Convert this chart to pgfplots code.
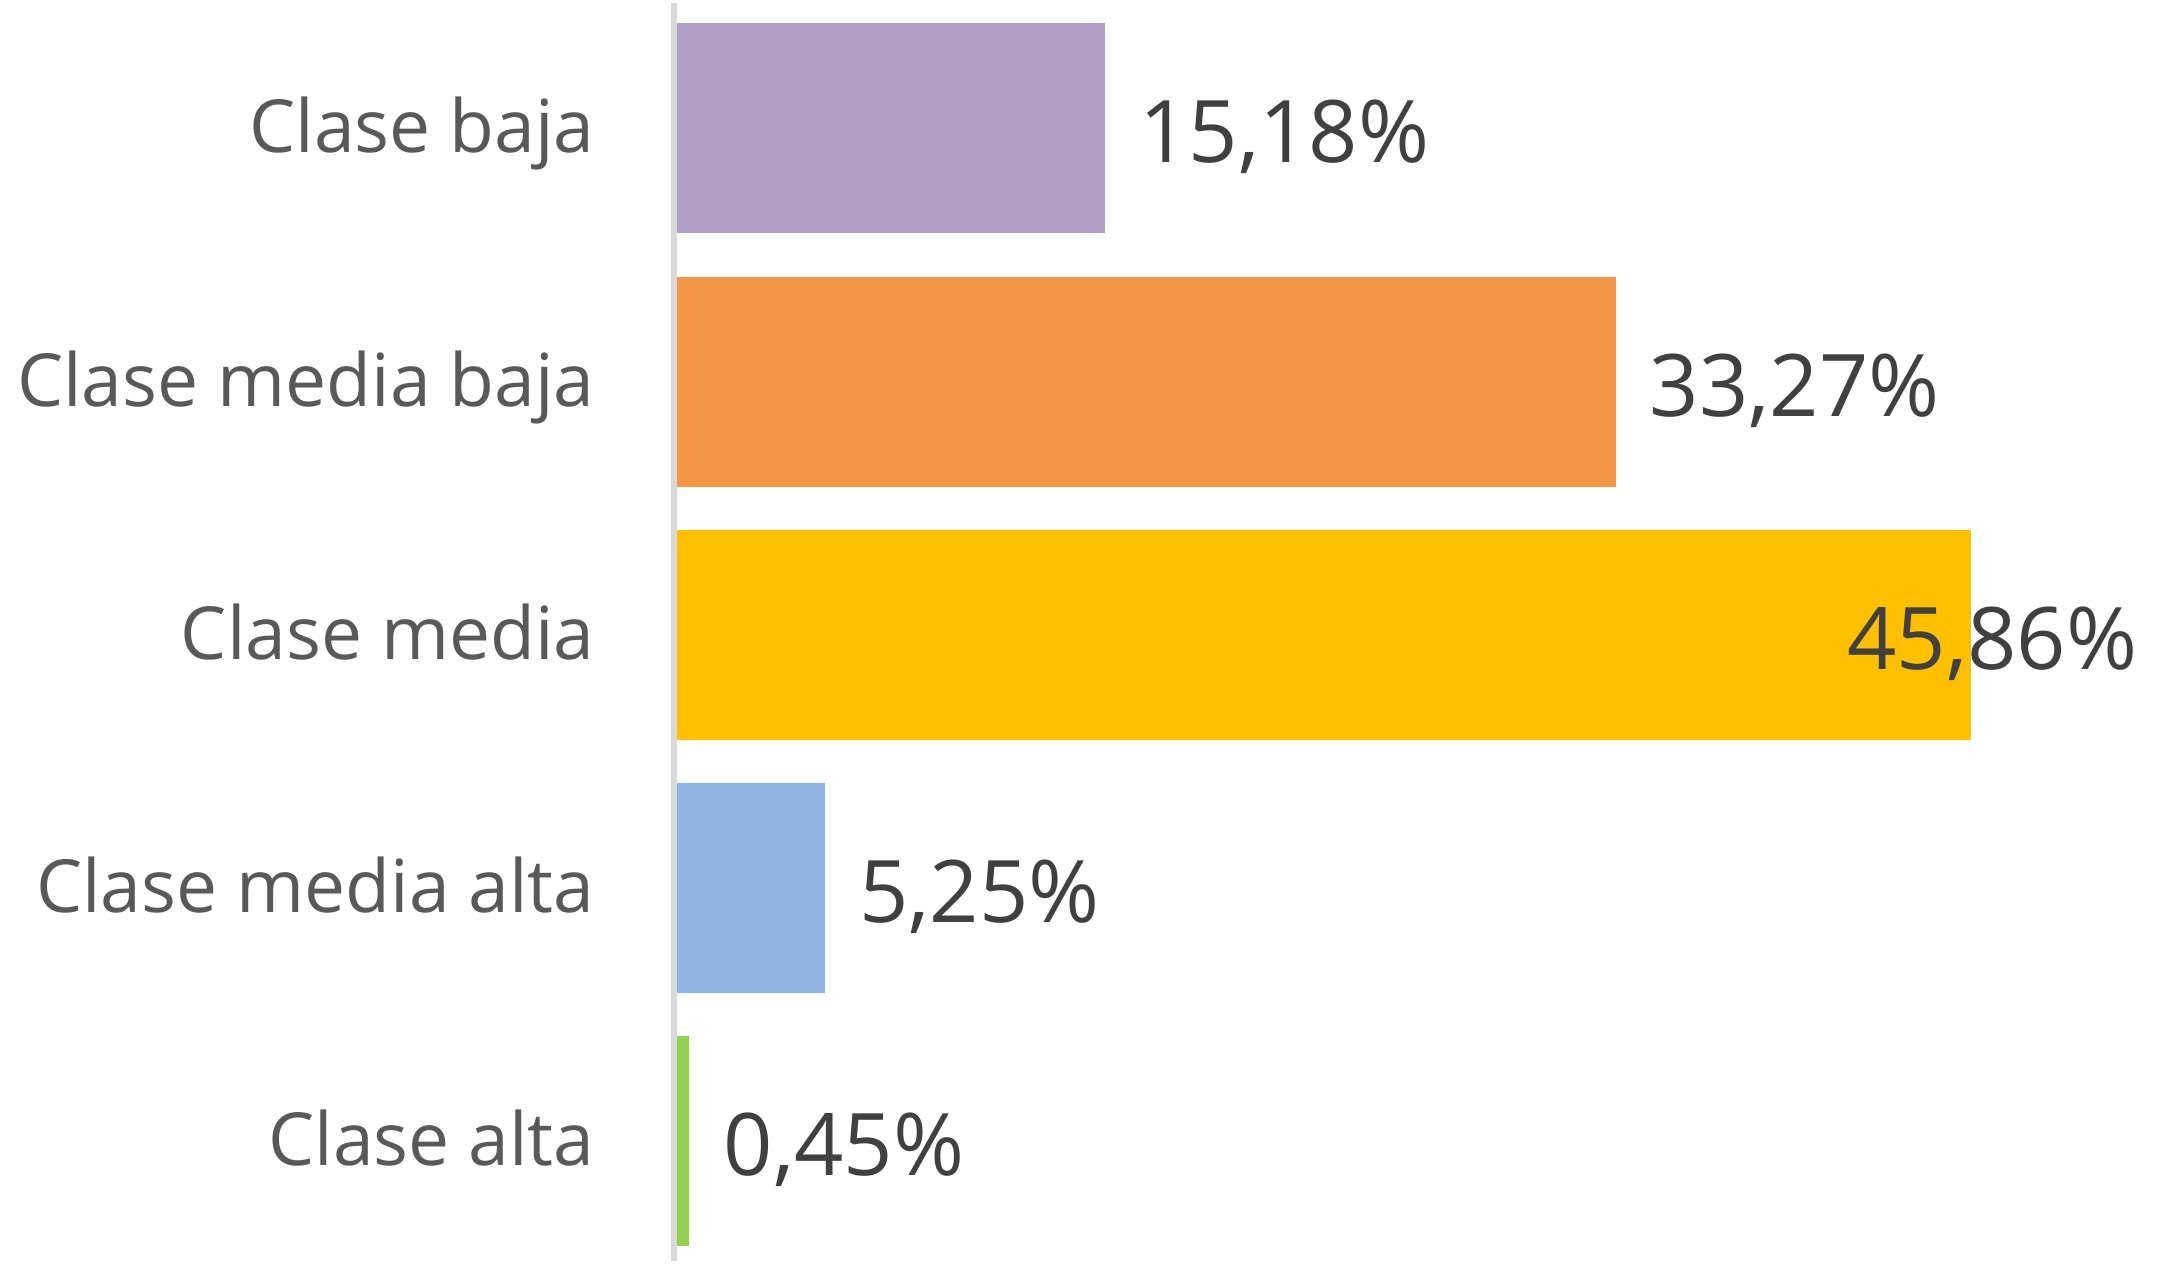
\documentclass[border=0pt]{standalone}
\usepackage{pgfplots}
\pgfplotsset{compat=1.18}
\usepackage{fontspec}
\setmainfont{Open Sans}
\definecolor{cpurple}{RGB}{176,159,196}
\definecolor{corange}{RGB}{245,150,70}
\definecolor{cyellow}{RGB}{255,192,0}
\definecolor{cblue}{RGB}{141,180,226}
\definecolor{cgreen}{RGB}{146,208,80}
\definecolor{catlab}{RGB}{89,89,89}
\definecolor{datlab}{RGB}{64,64,64}
\definecolor{axgray}{RGB}{217,217,217}
\begin{document}
\begin{tikzpicture}
\begin{axis}[
  scale only axis,
  width=1091.5pt, height=632pt,
  xmin=-23.98, xmax=53.38,
  ymin=-0.507, ymax=4.485,
  y dir=reverse,
  clip=false,
  axis line style={draw=none},
  xtick=\empty,
  ytick={0,1,2,3,4},
  yticklabels={Clase baja,Clase media baja,Clase media,Clase media alta,Clase alta},
  major tick length=0pt,
  ytick style={draw=none},
  yticklabel style={anchor=base east, inner sep=0pt, xshift=297.5pt, yshift=-12.3pt,
    font=\fontsize{36.6}{44}\selectfont, text=catlab},
  every node near coord/.append style={anchor=base west, inner sep=0pt, xshift=17pt, yshift=-17.3pt,
    font=\fontsize{43.2}{51}\selectfont, text=datlab},
]
\addplot[axgray, line width=2.85pt, mark=none] coordinates {(-0.1,-0.495) (-0.1,4.474)};
\addplot[xbar, bar width=105pt, bar shift=0pt, draw=none, fill=cpurple, nodes near coords={15,18\%}] coordinates {(15.18,0)};
\addplot[xbar, bar width=105pt, bar shift=0pt, draw=none, fill=corange, nodes near coords={33,27\%}] coordinates {(33.27,1)};
\addplot[xbar, bar width=105pt, bar shift=0pt, draw=none, fill=cyellow, nodes near coords={45,86\%},
  every node near coord/.append style={xshift=-79pt}] coordinates {(45.86,2)};
\addplot[xbar, bar width=105pt, bar shift=0pt, draw=none, fill=cblue, nodes near coords={5,25\%}] coordinates {(5.25,3)};
\addplot[xbar, bar width=105pt, bar shift=0pt, draw=none, fill=cgreen, nodes near coords={0,45\%}] coordinates {(0.45,4)};
\end{axis}
\end{tikzpicture}
\end{document}
